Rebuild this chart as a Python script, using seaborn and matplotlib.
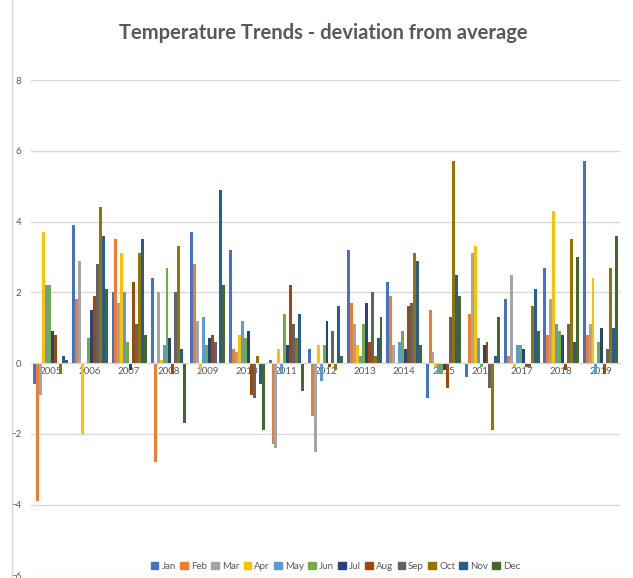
import matplotlib.pyplot as plt
import pandas as pd
import seaborn as sns
from matplotlib.lines import Line2D

# Data
years = [str(y) for y in range(2005, 2020)]
months = ["Jan", "Feb", "Mar", "Apr", "May", "Jun",
          "Jul", "Aug", "Sep", "Oct", "Nov", "Dec"]

jan = [-0.6, 3.9, 2.0, 2.4, 3.7, 3.2, 0.1, 0.4, 3.2, 2.3, -1.0, -0.4, 1.8, 2.7, 5.7]
feb = [-3.9, 1.8, 3.5, -2.8, 2.8, 0.4, -2.3, -1.5, 1.7, 1.9, 1.5, 1.4, 0.2, 0.8, 0.8]
mar = [-0.9, 2.9, 1.7, 2.0, 1.2, 0.3, -2.4, -2.5, 1.1, 0.5, 0.3, 3.1, 2.5, 1.8, 1.1]
apr = [3.7, -2.0, 3.1, 0.1, -0.2, 0.8, 0.4, 0.5, 0.5, 0.0, -0.1, 3.3, -0.1, 4.3, 2.4]
may = [2.2, 0.0, 2.0, 0.5, 1.3, 1.2, -0.3, -0.5, 0.2, 0.6, -0.3, 0.7, 0.5, 1.1, -0.3]
jun = [2.2, 0.7, 0.6, 2.7, 0.5, 0.7, 1.4, 0.5, 1.1, 0.9, -0.3, -0.1, 0.5, 0.9, 0.6]
jul = [0.9, 1.5, -0.2, 0.7, 0.7, 0.9, 0.5, 1.2, 1.7, 0.4, -0.2, 0.5, 0.4, 0.8, 1.0]
aug = [0.8, 1.9, 2.3, -0.3, 0.8, -0.9, 2.2, -0.1, 0.6, 1.6, -0.7, 0.6, -0.1, -0.2, -0.3]
sep = [0.0, 2.8, 1.1, 2.0, 0.6, -1.0, 1.1, 0.9, 2.0, 1.7, 1.3, -0.7, -0.1, 1.1, 0.4]
oct_ = [-0.3, 4.4, 3.1, 3.3, 0.0, 0.2, 0.7, -0.2, 0.2, 3.1, 5.7, -1.9, 1.6, 3.5, 2.7]
nov = [0.2, 3.6, 3.5, 0.4, 4.9, -0.6, 1.4, 1.6, 0.7, 2.9, 2.5, 0.2, 2.1, 0.6, 1.0]
dec = [0.1, 2.1, 0.8, -1.7, 2.2, -1.9, -0.8, 0.2, 1.3, 0.5, 1.9, 1.3, 0.9, 3.0, 3.6]

series = [jan, feb, mar, apr, may, jun, jul, aug, sep, oct_, nov, dec]
colors = ["#4472C4", "#ED7D31", "#A5A5A5", "#FFC000", "#5B9BD5", "#70AD47",
          "#264478", "#9E480E", "#636363", "#997300", "#255E91", "#43682B"]

rows = []
for m, vals in zip(months, series):
    for y, v in zip(years, vals):
        rows.append({"year": y, "month": m, "value": v})
df = pd.DataFrame(rows)

sns.set_style("white")
plt.rcParams["font.family"] = ["Lato", "DejaVu Sans"]

fig = plt.figure(figsize=(6.33, 5.78), dpi=100)
ax = fig.add_axes([0.049, 0.0045, 0.9305, 0.857])

sns.barplot(data=df, x="year", y="value", hue="month", order=years,
            hue_order=months, palette=colors, saturation=1, width=0.9,
            errorbar=None, linewidth=0, ax=ax)

ax.set_ylim(-6, 8)
ax.set_yticks(range(-6, 9, 2))
ax.yaxis.grid(True, color="#d9d9d9", linewidth=1)
ax.set_axisbelow(True)
for s in ["top", "right", "left"]:
    ax.spines[s].set_visible(False)
ax.spines["bottom"].set_position(("data", 0))
ax.spines["bottom"].set_color("#d9d9d9")
ax.tick_params(axis="both", length=0, labelsize=7, labelcolor="#595959")
ax.tick_params(axis="x", pad=3)
ax.tick_params(axis="y", pad=7)
ax.set_xlabel("")
ax.set_ylabel("")
ax.legend_.remove()

handles = [plt.Rectangle((0, 0), 1, 1, color=c) for c in colors]
fig.legend(handles, months, loc="center", bbox_to_anchor=(0.53, 0.02),
           ncol=12, frameon=False, fontsize=7, handlelength=0.8,
           handleheight=0.8, columnspacing=0.45, handletextpad=0.3,
           labelcolor="#595959")

fig.text(0.511, 0.943, "Temperature Trends - deviation from average",
         ha="center", va="center", fontsize=14.5, fontweight="bold",
         color="#595959")

fig.add_artist(Line2D([12 / 633, 12 / 633], [0, 1], color="#d9d9d9",
                      linewidth=1, transform=fig.transFigure))

fig.savefig("out.png", dpi=100)
